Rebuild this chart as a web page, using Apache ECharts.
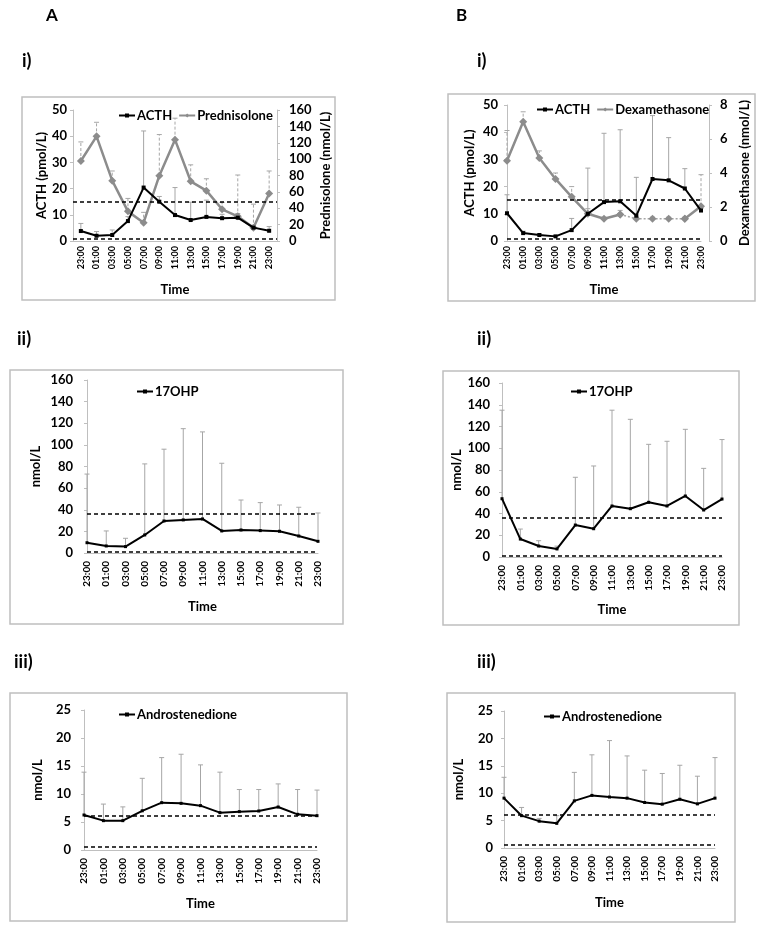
<!DOCTYPE html>
<html>
<head>
<meta charset="utf-8">
<script src="https://cdn.jsdelivr.net/npm/echarts@6/dist/echarts.min.js"></script>
<style>
html, body { margin: 0; padding: 0; background: #fff; }
#main { width: 764px; height: 930px; }
</style>
</head>
<body>
<div id="main"></div>
<script>
var times = ['23:00', '01:00', '03:00', '05:00', '07:00', '09:00', '11:00', '13:00', '15:00', '17:00', '19:00', '21:00', '23:00'];

// A i) ACTH + prednisolone
var acthA = [3.8, 2.0, 2.3, 7.6, 20.4, 15.0, 9.9, 8.0, 9.2, 8.7, 8.9, 5.1, 3.9];
var acthAErr = [6.7, 3.6, 4.2, 9.3, 42, 17, 20.4, 14.8, 15.6, 10.2, 10.5, 6, 5.5];
var pred = [97.7, 127.8, 73.7, 36.2, 22.4, 79.8, 123.8, 72.9, 61.5, 38.7, 30.1, 16.3, 58];
var predErr = [121, 145, 85.5, 52, 35, 130, 150, 93, 76, 47, 80.6, 45, 85.5];

// B i) ACTH + dexamethasone
var acthB = [10.2, 2.9, 2.2, 1.7, 4.0, 10.0, 14.3, 14.6, 9.3, 22.8, 22.3, 19.3, 11.2];
var acthBErr = [17, 3.6, 2.6, 2.0, 8.3, 26.8, 39.6, 40.9, 23.4, 46.1, 38.0, 26.6, 12];
var dexa = [4.72, 7.02, 4.88, 3.65, 2.6, 1.6, 1.31, 1.56, 1.31, 1.31, 1.31, 1.31, 2.05];
var dexaErr = [6.5, 7.6, 5.3, 4.0, 3.2, 1.9, 1.4, 1.8, 1.4, 1.4, 1.4, 1.4, 3.9];

// ii) 17OHP
var ohpA = [9.5, 6.5, 5.9, 16.7, 29.6, 30.6, 31.5, 20.4, 21.3, 20.7, 20.1, 15.7, 10.8];
var ohpAErr = [73, 20.4, 13.6, 82.4, 96, 115, 112, 83, 49, 46.6, 44.4, 42.3, 37];
var ohpB = [53.6, 16.5, 10.1, 7.4, 29.4, 26, 46.9, 44.4, 50.3, 46.9, 56.1, 43.2, 53.3];
var ohpBErr = [135, 25.7, 15, 10, 73.3, 83.7, 135, 126.6, 103.6, 106.4, 117.4, 81.5, 108];

// iii) Androstenedione
var andA = [6.25, 5.24, 5.24, 7.0, 8.45, 8.33, 7.92, 6.67, 6.85, 6.96, 7.68, 6.37, 6.13];
var andAErr = [13.9, 8.2, 7.7, 12.8, 16.5, 17.1, 15.2, 13.9, 10.8, 10.8, 11.8, 10.8, 10.7];
var andB = [9.1, 5.9, 4.9, 4.5, 8.6, 9.6, 9.3, 9.1, 8.3, 8.0, 8.9, 8.05, 9.1];
var andBErr = [12.9, 7.4, 5.4, 5.9, 13.8, 17.0, 19.6, 16.8, 14.2, 13.6, 15.1, 13.1, 16.5];

// reference (dashed) lines
var refACTH = [15, 1];
var refOHP = [36, 1.3];
var refAnd = [6.1, 0.6];

var FONT = 'Lato';
var GRAY = '#a6a6a6';

var chart = echarts.init(document.getElementById('main'));

function xAx(grid, gap, fs, margin, nameGap) {
    return {
        type: 'category', gridIndex: grid, data: times, boundaryGap: gap,
        axisLine: { lineStyle: { color: '#bfbfbf' } },
        axisTick: { show: false },
        axisLabel: { rotate: 90, interval: 0, fontSize: fs, fontWeight: 'bold', color: '#000', margin: margin, fontFamily: FONT },
        name: 'Time', nameLocation: 'middle', nameGap: nameGap,
        nameTextStyle: { fontSize: 13, fontWeight: 'bold', color: '#000', fontFamily: FONT }
    };
}

function yAx(grid, min, max, step, name, margin, nameGap, pos) {
    return {
        type: 'value', gridIndex: grid, min: min, max: max, interval: step, position: pos || 'left',
        axisLine: { show: true, lineStyle: { color: '#bfbfbf' } },
        axisTick: { show: true, length: 3, lineStyle: { color: '#bfbfbf' } },
        splitLine: { show: false },
        axisLabel: { fontSize: 13, fontWeight: 'bold', color: '#000', margin: margin, fontFamily: FONT },
        name: name, nameLocation: 'middle', nameGap: nameGap, nameRotate: 90,
        nameTextStyle: { fontSize: 13, fontWeight: 'bold', color: '#000', fontFamily: FONT }
    };
}

function errSeries(xi, yi, vals, errs, dashed) {
    return {
        type: 'custom', xAxisIndex: xi, yAxisIndex: yi, z: 1, silent: true,
        encode: { x: 0, y: [1, 2] },
        data: vals.map(function (v, i) { return [i, v, errs[i]]; }),
        renderItem: function (params, api) {
            var p0 = api.coord([api.value(0), api.value(1)]);
            var p1 = api.coord([api.value(0), api.value(2)]);
            return {
                type: 'group', children: [
                    { type: 'line', shape: { x1: p0[0], y1: p0[1], x2: p1[0], y2: p1[1] },
                      style: { stroke: GRAY, lineWidth: 1, lineDash: dashed ? [3, 2] : null } },
                    { type: 'line', shape: { x1: p1[0] - 2.5, y1: p1[1], x2: p1[0] + 2.5, y2: p1[1] },
                      style: { stroke: GRAY, lineWidth: 1 } }
                ]
            };
        }
    };
}

function refLines(vals) {
    return {
        silent: true, symbol: 'none', label: { show: false },
        lineStyle: { color: '#000', width: 1.5, type: [4, 3] },
        data: vals.map(function (v) { return { yAxis: v }; })
    };
}

function blackLine(name, xi, yi, data, refs, size) {
    var s = {
        name: name, type: 'line', xAxisIndex: xi, yAxisIndex: yi, data: data, z: 3,
        color: '#000', symbol: 'rect', symbolSize: size || 4,
        lineStyle: { color: '#000', width: 2 }, itemStyle: { color: '#000' }
    };
    if (refs) s.markLine = refLines(refs);
    return s;
}

function legend(names, left, top) {
    return {
        data: names, left: left, top: top, itemWidth: 16, itemHeight: 5, itemGap: 6,
        textStyle: { fontSize: 13, fontWeight: 'bold', color: '#000', fontFamily: FONT, padding: [0, 0, 0, -3] }
    };
}

// dexamethasone: solid, dotted (13:00-21:00), solid end
var dexaSolid = dexa.map(function (v, i) { return i <= 7 ? v : null; });
var dexaDot = dexa.map(function (v, i) { return (i >= 7 && i <= 11) ? v : null; });
var dexaEnd = dexa.map(function (v, i) { return i >= 11 ? v : null; });

var grayLine = { color: '#8c8c8c', width: 2.5 };

var option = {
    animation: false,
    textStyle: { fontFamily: FONT },
    grid: [
        { left: 73, top: 110, width: 204, height: 131 },
        { left: 507, top: 105, width: 194, height: 136 },
        { left: 87, top: 380, width: 231, height: 173 },
        { left: 502, top: 383, width: 220, height: 174 },
        { left: 84, top: 710, width: 233, height: 140 },
        { left: 504, top: 711, width: 211, height: 137 }
    ],
    xAxis: [
        xAx(0, true, 9, 5, 42),
        xAx(1, false, 9, 5, 42),
        xAx(2, false, 10, 8, 47),
        xAx(3, false, 10, 8, 46),
        xAx(4, false, 10, 8, 47),
        xAx(5, false, 10, 8, 48)
    ],
    yAxis: [
        yAx(0, 0, 50, 10, 'ACTH (pmol/L)', 6, 25),
        yAx(0, 0, 160, 20, 'Prednisolone (nmol/L)', 12, 42, 'right'),
        yAx(1, 0, 50, 10, 'ACTH (pmol/L)', 9, 31),
        Object.assign(yAx(1, 0, 8, 2, 'Dexamethasone (nmol/L)', 11, 29, 'right'), { offset: 8 }),
        yAx(2, 0, 160, 20, 'nmol/L', 14, 45),
        yAx(3, 0, 160, 20, 'nmol/L', 12, 37),
        yAx(4, 0, 25, 5, 'nmol/L', 13, 40),
        yAx(5, 0, 25, 5, 'nmol/L', 11, 39)
    ],
    legend: [
        legend(['ACTH', 'Prednisolone'], 113, 104),
        legend(['ACTH', 'Dexamethasone'], 531, 98),
        legend(['17OHP'], 131, 380),
        legend(['17OHP'], 565, 380),
        legend(['Androstenedione'], 113, 703),
        legend(['Androstenedione'], 538, 705)
    ],
    graphic: [
        { type: 'rect', shape: { x: 22, y: 97, width: 313, height: 203 }, style: { fill: null, stroke: '#bfbfbf', lineWidth: 1.5 } },
        { type: 'rect', shape: { x: 448, y: 94, width: 307, height: 207 }, style: { fill: null, stroke: '#bfbfbf', lineWidth: 1.5 } },
        { type: 'rect', shape: { x: 10, y: 370, width: 333, height: 254 }, style: { fill: null, stroke: '#bfbfbf', lineWidth: 1.5 } },
        { type: 'rect', shape: { x: 443, y: 371, width: 296, height: 254 }, style: { fill: null, stroke: '#bfbfbf', lineWidth: 1.5 } },
        { type: 'rect', shape: { x: 10, y: 693, width: 337, height: 228 }, style: { fill: null, stroke: '#bfbfbf', lineWidth: 1.5 } },
        { type: 'rect', shape: { x: 447, y: 693, width: 288, height: 229 }, style: { fill: null, stroke: '#bfbfbf', lineWidth: 1.5 } },
        { type: 'text', left: 46, top: 7, style: { text: 'A', font: 'bold 17px Lato', fill: '#000' } },
        { type: 'text', left: 456, top: 7, style: { text: 'B', font: 'bold 17px Lato', fill: '#000' } },
        { type: 'text', left: 22, top: 52, style: { text: 'i)', font: 'bold 18px Lato', fill: '#000' } },
        { type: 'text', left: 477, top: 52, style: { text: 'i)', font: 'bold 18px Lato', fill: '#000' } },
        { type: 'text', left: 17, top: 330, style: { text: 'ii)', font: 'bold 18px Lato', fill: '#000' } },
        { type: 'text', left: 477, top: 330, style: { text: 'ii)', font: 'bold 18px Lato', fill: '#000' } },
        { type: 'text', left: 14, top: 653, style: { text: 'iii)', font: 'bold 18px Lato', fill: '#000' } },
        { type: 'text', left: 477, top: 653, style: { text: 'iii)', font: 'bold 18px Lato', fill: '#000' } }
    ],
    series: [
        errSeries(0, 0, acthA, acthAErr, false),
        errSeries(0, 1, pred, predErr, true),
        blackLine('ACTH', 0, 0, acthA, refACTH),
        { name: 'Prednisolone', type: 'line', xAxisIndex: 0, yAxisIndex: 1, data: pred, z: 2,
          color: '#8c8c8c', symbol: 'diamond', symbolSize: 8, lineStyle: grayLine, itemStyle: { color: '#8c8c8c' } },

        errSeries(1, 2, acthB, acthBErr, false),
        errSeries(1, 3, dexa, dexaErr, true),
        blackLine('ACTH', 1, 2, acthB, refACTH),
        { name: 'Dexamethasone', type: 'line', xAxisIndex: 1, yAxisIndex: 3, data: dexaSolid, z: 2,
          color: '#8c8c8c', symbol: 'diamond', symbolSize: 8, lineStyle: grayLine, itemStyle: { color: '#8c8c8c' } },
        { name: 'Dexa dotted', type: 'line', xAxisIndex: 1, yAxisIndex: 3, data: dexaDot, z: 2,
          symbol: 'diamond', symbolSize: 8, lineStyle: { color: '#a6a6a6', width: 1.5, type: [2, 2] }, itemStyle: { color: '#8c8c8c' } },
        { name: 'Dexa end', type: 'line', xAxisIndex: 1, yAxisIndex: 3, data: dexaEnd, z: 2,
          symbol: 'diamond', symbolSize: 8, lineStyle: grayLine, itemStyle: { color: '#8c8c8c' } },

        errSeries(2, 4, ohpA, ohpAErr, false),
        blackLine('17OHP', 2, 4, ohpA, refOHP, 3),
        errSeries(3, 5, ohpB, ohpBErr, false),
        blackLine('17OHP', 3, 5, ohpB, refOHP, 3),

        errSeries(4, 6, andA, andAErr, false),
        blackLine('Androstenedione', 4, 6, andA, refAnd, 3),
        errSeries(5, 7, andB, andBErr, false),
        blackLine('Androstenedione', 5, 7, andB, refAnd, 3)
    ]
};

chart.setOption(option);
</script>
</body>
</html>
